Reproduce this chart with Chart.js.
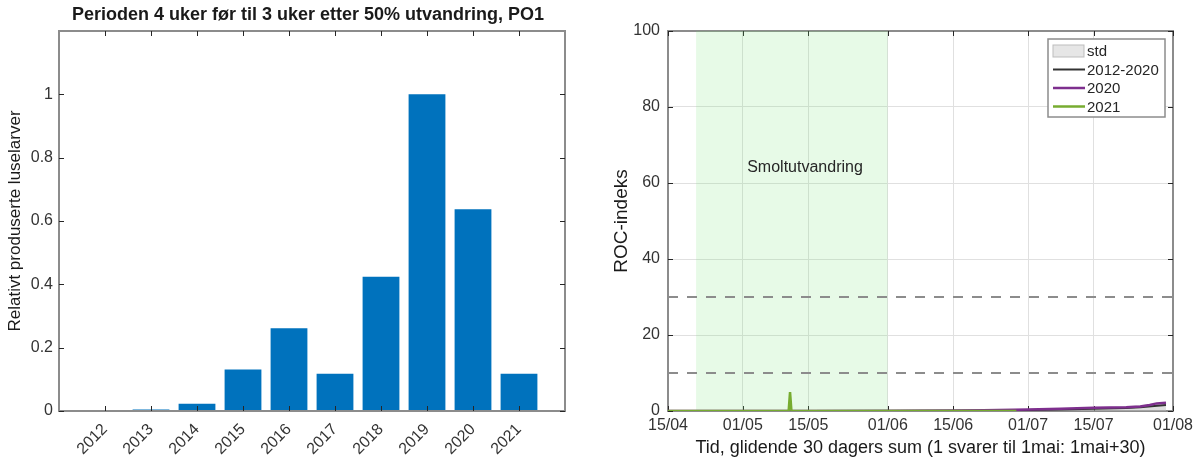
<!DOCTYPE html>
<html>
<head>
<meta charset="utf-8">
<script src="https://cdn.jsdelivr.net/npm/chart.js@4.4.1/dist/chart.umd.min.js"></script>
<style>
    body { margin: 0; background: #fff; width: 1199px; height: 459px; overflow: hidden; position: relative; }
    #left { position: absolute; left: 0; top: 0; width: 600px; height: 459px; }
    #right { position: absolute; left: 600px; top: 0; width: 599px; height: 459px; }
</style>
</head>
<body>
<div id="left"><canvas id="larvaeChart"></canvas></div>
<div id="right"><canvas id="rocChart"></canvas></div>
<script>
// left panel
const years = [2012, 2013, 2014, 2015, 2016, 2017, 2018, 2019, 2020, 2021];
const larvae = [0, 0.005, 0.023, 0.131, 0.261, 0.118, 0.424, 1.0, 0.637, 0.118];
const larvaeTicks = [0, 0.2, 0.4, 0.6, 0.8, 1];
const larvaeTitle = 'Perioden 4 uker før til 3 uker etter 50% utvandring, PO1';

// right panel, x = days after 15/04
const dayTicks = [0, 16, 30, 47, 61, 77, 91, 108];
const dayLabels = ['15/04', '01/05', '15/05', '01/06', '15/06', '01/07', '15/07', '01/08'];
const smoltStart = 6;
const smoltEnd = 47;
const thresholds = [30, 10];

const meanDays = [0, 16, 30, 47, 61, 70, 77, 84, 91, 98, 101, 104, 106.5];
const meanRoc = [0, 0, 0.02, 0.05, 0.1, 0.15, 0.25, 0.4, 0.6, 0.8, 1.0, 1.3, 1.6];
const stdRoc = [0, 0.02, 0.05, 0.1, 0.2, 0.3, 0.45, 0.7, 1.0, 1.3, 1.6, 2.0, 2.4];

const days2020 = [0, 47, 61, 74, 77, 84, 91, 98, 101, 103, 104.5, 106.5];
const roc2020 = [0, 0, 0.05, 0.3, 0.4, 0.6, 0.85, 1.0, 1.2, 1.6, 2.0, 2.2];

const days2021 = [0, 25.8, 26.1, 26.4, 74.5];
const roc2021 = [0, 0, 5, 0, 0];

const legendOrder = ['std', '2012-2020', '2020', '2021'];

const FONT = "'Liberation Sans', Arial, sans-serif";
Chart.defaults.font.family = FONT;
Chart.defaults.color = '#333';

const pts = (xs, ys) => xs.map((x, i) => ({ x: x, y: ys[i] }));

// matlab style box with inward ticks
function drawBox(chart) {
    const { ctx, chartArea: a, scales: { x, y } } = chart;
    ctx.save();
    ctx.strokeStyle = '#8c8c8c';
    ctx.lineWidth = 2;
    ctx.strokeRect(a.left, a.top, a.right - a.left, a.bottom - a.top);
    ctx.strokeStyle = '#262626';
    ctx.lineWidth = 1;
    ctx.beginPath();
    x.ticks.forEach(t => {
        const px = Math.round(x.getPixelForValue(t.value)) + 0.5;
        ctx.moveTo(px, a.bottom); ctx.lineTo(px, a.bottom - 5);
        ctx.moveTo(px, a.top); ctx.lineTo(px, a.top + 5);
    });
    y.ticks.forEach(t => {
        const py = Math.round(y.getPixelForValue(t.value)) + 0.5;
        ctx.moveTo(a.left, py); ctx.lineTo(a.left + 5, py);
        ctx.moveTo(a.right, py); ctx.lineTo(a.right - 5, py);
    });
    ctx.stroke();
    ctx.restore();
}
const boxOnTop = { id: 'boxOnTop', afterDatasetsDraw: drawBox };
const boxBelow = { id: 'boxBelow', beforeDatasetsDraw: drawBox };

// title centred over the axes, like matlab
const axesTitle = {
    id: 'axesTitle',
    afterDraw(chart) {
        const { ctx, chartArea: a } = chart;
        ctx.save();
        ctx.fillStyle = '#1a1a1a';
        ctx.font = 'bold 18px ' + FONT;
        ctx.textAlign = 'center';
        ctx.textBaseline = 'middle';
        ctx.fillText(larvaeTitle, (a.left + a.right) / 2 - 4, 15);
        ctx.restore();
    }
};

// legend box and label inside the ROC axes
const rocExtras = {
    id: 'rocExtras',
    afterDatasetsDraw(chart) {
        const { ctx, chartArea: a, scales: { x, y } } = chart;
        ctx.save();
        ctx.fillStyle = '#262626';
        ctx.font = '16px ' + FONT;
        ctx.textAlign = 'center';
        ctx.textBaseline = 'middle';
        ctx.fillText('Smoltutvandring', x.getPixelForValue(29.3), y.getPixelForValue(64));

        const bw = 117, bh = 78;
        const bx = a.right - 8 - bw, by = a.top + 8;
        ctx.fillStyle = '#fff';
        ctx.fillRect(bx, by, bw, bh);
        ctx.strokeStyle = '#8c8c8c';
        ctx.lineWidth = 1.5;
        ctx.strokeRect(bx, by, bw, bh);
        ctx.font = '15px ' + FONT;
        ctx.textAlign = 'left';
        legendOrder.forEach((name, i) => {
            const ds = chart.data.datasets.find(d => d.label === name);
            const cy = by + 12 + i * 18.5;
            if (ds.fill) {
                ctx.fillStyle = '#e6e6e6';
                ctx.fillRect(bx + 5, cy - 6, 31, 12);
                ctx.strokeStyle = '#bdbdbd';
                ctx.lineWidth = 1;
                ctx.strokeRect(bx + 5, cy - 6, 31, 12);
            } else {
                ctx.strokeStyle = ds.borderColor;
                ctx.lineWidth = ds.borderWidth;
                ctx.beginPath();
                ctx.moveTo(bx + 5, cy); ctx.lineTo(bx + 37, cy);
                ctx.stroke();
            }
            ctx.fillStyle = '#262626';
            ctx.fillText(name, bx + 39, cy + 1);
        });
        ctx.restore();
    }
};

new Chart(document.getElementById('larvaeChart'), {
    type: 'bar',
    data: {
        datasets: [{
            data: pts(years, larvae),
            backgroundColor: '#0072BD',
            barPercentage: 0.8,
            categoryPercentage: 1
        }]
    },
    options: {
        animation: false,
        responsive: true,
        maintainAspectRatio: false,
        devicePixelRatio: 1,
        layout: { padding: { left: 0, right: 35, top: 31, bottom: 0 } },
        plugins: { legend: { display: false }, tooltip: { enabled: false } },
        scales: {
            x: {
                type: 'linear', min: 2011, max: 2022, offset: false,
                grid: { display: false, drawTicks: false },
                border: { display: false },
                afterBuildTicks: s => { s.ticks = years.map(v => ({ value: v })); },
                ticks: { autoSkip: false, minRotation: 45, maxRotation: 45, padding: 9, font: { size: 16 }, callback: v => String(v) },
                afterFit: s => { s.height = 48; }
            },
            y: {
                min: 0, max: 1.2,
                grid: { display: false, drawTicks: false },
                border: { display: false },
                afterBuildTicks: s => { s.ticks = larvaeTicks.map(v => ({ value: v })); },
                ticks: { padding: 6, font: { size: 16 }, callback: v => String(v) },
                title: { display: true, text: 'Relativt produserte luselarver', color: '#1a1a1a', font: { size: 17 }, padding: { top: 5, bottom: 0 } },
                afterFit: s => { s.width = 59; }
            }
        }
    },
    plugins: [boxOnTop, axesTitle]
});

new Chart(document.getElementById('rocChart'), {
    type: 'line',
    data: {
        datasets: [
            { label: '2021', data: pts(days2021, roc2021), borderColor: '#77AC30', borderWidth: 2.5, order: 1 },
            { label: '2020', data: pts(days2020, roc2020), borderColor: '#7E2F8E', borderWidth: 2.5, order: 2 },
            { label: '2012-2020', data: pts(meanDays, meanRoc), borderColor: '#333333', borderWidth: 2, order: 3 },
            { label: 'std', data: pts(meanDays, stdRoc), fill: 'origin', backgroundColor: 'rgba(190,190,190,0.5)', borderColor: 'rgba(0,0,0,0)', borderWidth: 0, order: 4 },
            ...thresholds.map(t => ({
                label: 'terskel ' + t, data: pts([0, 108], [t, t]),
                borderColor: '#8c8c8c', borderWidth: 2, borderDash: [10, 9], order: 5
            })),
            { label: 'Smoltutvandring', data: pts([smoltStart, smoltEnd], [100, 100]), fill: 'origin', backgroundColor: 'rgba(120,230,120,0.18)', borderColor: 'rgba(0,0,0,0)', borderWidth: 0, order: 6 }
        ]
    },
    options: {
        animation: false,
        responsive: true,
        maintainAspectRatio: false,
        devicePixelRatio: 1,
        elements: { point: { radius: 0 }, line: { tension: 0 } },
        layout: { padding: { left: 0, right: 26, top: 31, bottom: 0 } },
        plugins: { legend: { display: false }, tooltip: { enabled: false } },
        scales: {
            x: {
                type: 'linear', min: 0, max: 108,
                grid: { color: '#e0e0e0', drawTicks: false },
                border: { display: false },
                afterBuildTicks: s => { s.ticks = dayTicks.map(v => ({ value: v })); },
                ticks: { autoSkip: false, maxRotation: 0, padding: 5, font: { size: 16 }, callback: v => dayLabels[dayTicks.indexOf(v)] },
                title: { display: true, text: 'Tid, glidende 30 dagers sum (1 svarer til 1mai: 1mai+30)', color: '#1a1a1a', font: { size: 18 }, padding: { top: 0, bottom: 0 } },
                afterFit: s => { s.height = 48; }
            },
            y: {
                min: 0, max: 100,
                grid: { color: '#e0e0e0', drawTicks: false },
                border: { display: false },
                ticks: { stepSize: 20, padding: 8, font: { size: 16 } },
                title: { display: true, text: 'ROC-indeks', color: '#1a1a1a', font: { size: 19 }, padding: { top: 10, bottom: 0 } },
                afterFit: s => { s.width = 68; }
            }
        }
    },
    plugins: [boxBelow, rocExtras]
});
</script>
</body>
</html>
